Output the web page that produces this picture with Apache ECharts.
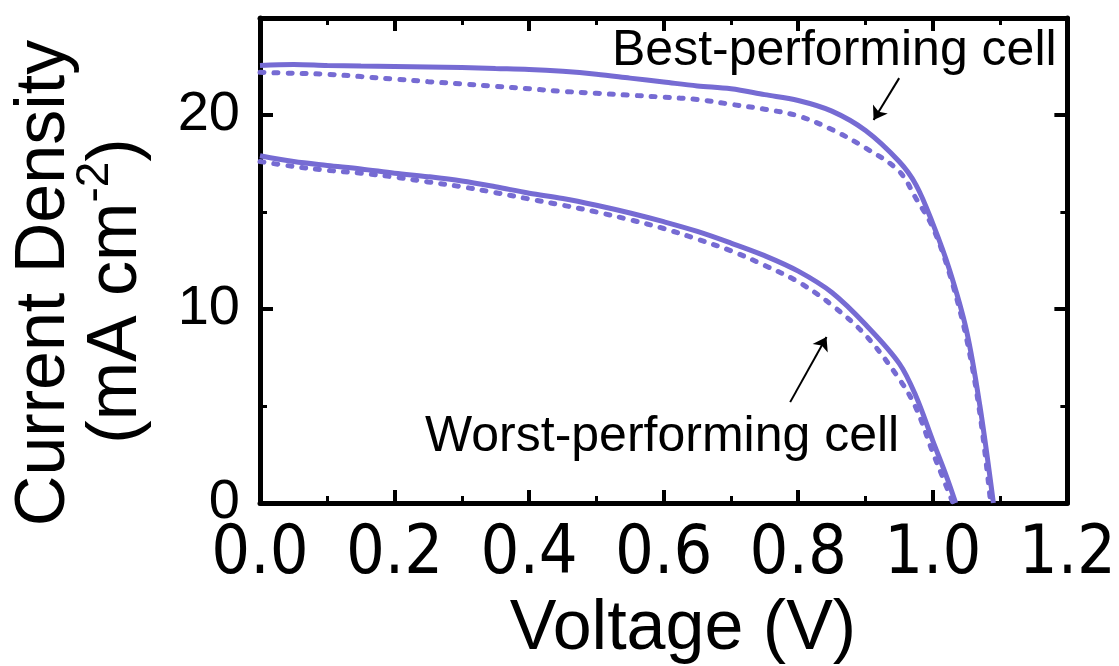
<!DOCTYPE html>
<html>
<head>
<meta charset="utf-8">
<script src="https://cdn.jsdelivr.net/npm/echarts@6/dist/echarts.min.js"></script>
<style>
html,body{margin:0;padding:0;background:#fff;}
#chart{width:1119px;height:666px;}
</style>
</head>
<body>
<div id="chart"></div>
<script>
// ---- data ----
const xTicks = [0.0, 0.2, 0.4, 0.6, 0.8, 1.0, 1.2];
const yTicks = [0, 10, 20];

const bestSolidV = [0, 0.05, 0.1, 0.15, 0.2, 0.25, 0.3, 0.35, 0.4, 0.45, 0.5, 0.55, 0.6, 0.65, 0.7, 0.75, 0.8, 0.85, 0.9, 0.95, 0.975, 1.0, 1.025, 1.05, 1.07, 1.09];
const bestSolidJ = [22.55, 22.6, 22.55, 22.52, 22.5, 22.48, 22.45, 22.4, 22.35, 22.25, 22.1, 21.9, 21.7, 21.5, 21.35, 21.05, 20.75, 20.2, 19.2, 17.6, 16.4, 14.4, 12.0, 8.9, 5.0, 0];

const bestDashV = [0, 0.05, 0.1, 0.15, 0.2, 0.25, 0.3, 0.35, 0.4, 0.45, 0.5, 0.55, 0.6, 0.65, 0.7, 0.75, 0.8, 0.85, 0.9, 0.95, 0.975, 1.0, 1.025, 1.05, 1.07, 1.086];
const bestDashJ = [22.2, 22.15, 22.1, 21.98, 21.85, 21.72, 21.6, 21.48, 21.35, 21.22, 21.12, 21.02, 20.92, 20.8, 20.55, 20.3, 19.95, 19.25, 18.3, 17.1, 15.7, 14.2, 11.8, 8.5, 4.6, 0];

const worstSolidV = [0, 0.05, 0.1, 0.15, 0.2, 0.25, 0.3, 0.35, 0.4, 0.45, 0.5, 0.55, 0.6, 0.65, 0.7, 0.75, 0.8, 0.85, 0.9, 0.95, 0.975, 1.0, 1.02, 1.034];
const worstSolidJ = [17.9, 17.6, 17.4, 17.22, 17.0, 16.82, 16.6, 16.3, 15.97, 15.7, 15.35, 14.95, 14.5, 14.0, 13.4, 12.75, 11.95, 10.85, 9.2, 7.2, 5.5, 3.2, 1.4, 0];

const worstDashV = [0, 0.05, 0.1, 0.15, 0.2, 0.25, 0.3, 0.35, 0.4, 0.45, 0.5, 0.55, 0.6, 0.65, 0.7, 0.75, 0.8, 0.85, 0.9, 0.95, 0.975, 1.0, 1.015, 1.03];
const worstDashJ = [17.6, 17.35, 17.15, 17.0, 16.8, 16.55, 16.3, 16.0, 15.67, 15.35, 15.0, 14.6, 14.15, 13.6, 13.0, 12.25, 11.4, 10.2, 8.65, 6.4, 4.9, 2.6, 1.3, 0];

// annotation arrows in data units [V, J]
const bestArrow = [[0.950, 21.9], [0.912, 19.74]];
const worstArrow = [[0.788, 5.2], [0.842, 8.56]];

const bestLabel = 'Best-performing cell';
const worstLabel = 'Worst-performing cell';
const xTitle = 'Voltage (V)';
const yTitle1 = 'Current Density';

// ---- build ----
const zip = (a, b) => a.map((v, i) => [v, b[i]]);
const COLOR = '#766bd3';
const SANS = '"Liberation Sans", Arial, Helvetica, sans-serif';
const NARROW = '"Liberation Sans Narrow", "Arial Narrow", "DejaVu Sans Condensed", sans-serif';

const chart = echarts.init(document.getElementById('chart'), null, {renderer: 'canvas'});

const axisLineStyle = {show: true, onZero: false, lineStyle: {color: '#000', width: 5}};
const tickStyle = {show: true, inside: true, length: 13, lineStyle: {color: '#000', width: 4}};
const minorStyle = {show: true, splitNumber: 2, length: 7, lineStyle: {color: '#000', width: 3}};

const xBase = {
  type: 'value', min: xTicks[0], max: xTicks[xTicks.length - 1], interval: 0.2,
  axisLine: axisLineStyle, axisTick: tickStyle, minorTick: minorStyle,
  splitLine: {show: false}
};
const yBase = {
  type: 'value', min: 0, max: 25, interval: 10,
  axisLine: axisLineStyle, axisTick: tickStyle, minorTick: minorStyle,
  splitLine: {show: false}
};

const lineSeries = (v, j, dashed) => ({
  type: 'line', data: zip(v, j), smooth: 0.35, showSymbol: false,
  lineStyle: dashed ? {color: COLOR, width: 5, type: [4, 10], cap: 'round'} : {color: COLOR, width: 5},
  z: dashed ? 2 : 3
});

const option = {
  backgroundColor: '#fff',
  animation: false,
  grid: {left: 260, right: 47, top: 18, bottom: 163, containLabel: false},
  xAxis: [
    Object.assign({}, xBase, {
      position: 'bottom',
      axisLabel: {
        show: true, margin: 52, verticalAlign: 'middle',
        fontFamily: NARROW, fontSize: 68, color: '#000',
        customValues: xTicks,
        formatter: v => v.toFixed(1)
      }
    }),
    Object.assign({}, xBase, {position: 'top', axisLabel: {show: false}})
  ],
  yAxis: [
    Object.assign({}, yBase, {
      position: 'left',
      axisLabel: {
        show: true, margin: 20, fontFamily: SANS, fontSize: 56, color: '#000',
        customValues: yTicks,
        formatter: v => String(v)
      }
    }),
    Object.assign({}, yBase, {position: 'right', axisLabel: {show: false}})
  ],
  series: [
    lineSeries(bestSolidV, bestSolidJ, false),
    lineSeries(bestDashV, bestDashJ, true),
    lineSeries(worstSolidV, worstSolidJ, false),
    lineSeries(worstDashV, worstDashJ, true),
    {type: 'lines', coordinateSystem: 'cartesian2d', polyline: false,
     symbol: ['none', 'arrow'], symbolSize: 13,
     lineStyle: {color: '#000', width: 2, opacity: 1},
     data: [{coords: bestArrow}, {coords: worstArrow}], z: 5, silent: true}
  ],
  graphic: [
    {type: 'text', x: 612, y: 51, style: {text: bestLabel, font: '50px ' + SANS, fill: '#000', align: 'left', verticalAlign: 'middle'}},
    {type: 'text', x: 425, y: 437, style: {text: worstLabel, font: '50px ' + SANS, fill: '#000', align: 'left', verticalAlign: 'middle'}},
    {type: 'text', x: 683, y: 630, style: {text: xTitle, font: '70px ' + SANS, fill: '#000', align: 'center', verticalAlign: 'middle'}},
    {type: 'text', x: 45, y: 283, rotation: Math.PI / 2,
     style: {text: yTitle1, font: '70px ' + SANS, fill: '#000', align: 'center', verticalAlign: 'middle'}},
    {type: 'text', x: 117, y: 291, rotation: Math.PI / 2,
     style: {
       text: '{n|(mA cm}{s|-2}{n|)}', align: 'center', verticalAlign: 'middle', fill: '#000',
       rich: {
         n: {fontFamily: SANS, fontSize: 70, lineHeight: 90, fill: '#000'},
         s: {fontFamily: SANS, fontSize: 46, lineHeight: 40, verticalAlign: 'top', fill: '#000'}
       }
     }}
  ]
};
chart.setOption(option);
</script>
</body>
</html>
